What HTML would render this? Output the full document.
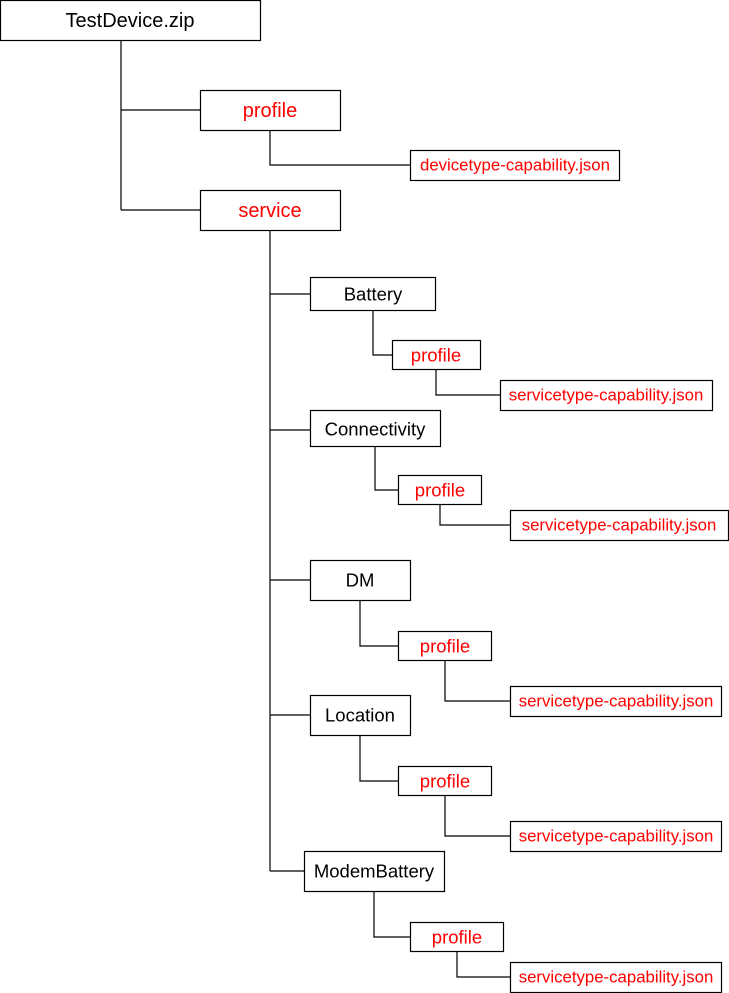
<!DOCTYPE html>
<html><head><style>body{margin:0;background:#fff}svg{display:block}text{font-family:"Liberation Sans",Arial,sans-serif;text-anchor:middle;dominant-baseline:central}</style></head>
<body>
<svg width="729" height="993" xmlns="http://www.w3.org/2000/svg">
<g fill="none" stroke="#000" stroke-width="1.2">
<path d="M121 40V210M121 110H200M121 210H200"/>
<path d="M270 130V165H410"/>
<path d="M270 230V871M270 294H310M270 430H310M270 580H310M270 715H310M270 871H304"/>
<path d="M373 310V355H392M436 369V395H500"/>
<path d="M375 447V490H398M440 504V525H510"/>
<path d="M360 600V646H398M445 660V701H510"/>
<path d="M360 735V781H398M445 795V836H510"/>
<path d="M374 891V937H410M457 951V977H510"/>
<rect x="0.5" y="0.5" width="260" height="40"/>
<rect x="200.5" y="90.5" width="140" height="40"/>
<rect x="200.5" y="190.5" width="140" height="40"/>
<rect x="410.5" y="150.5" width="209" height="30"/>
<rect x="310.5" y="277.5" width="125" height="33"/>
<rect x="392.5" y="340.5" width="88" height="29"/>
<rect x="500.5" y="380.5" width="212" height="30"/>
<rect x="310.5" y="410.5" width="130" height="36"/>
<rect x="398.5" y="475.5" width="83" height="29"/>
<rect x="510.5" y="510.5" width="218" height="30"/>
<rect x="310.5" y="560.5" width="100" height="40"/>
<rect x="398.5" y="631.5" width="93" height="29"/>
<rect x="510.5" y="686.5" width="211" height="30"/>
<rect x="310.5" y="695.5" width="100" height="40"/>
<rect x="398.5" y="766.5" width="93" height="29"/>
<rect x="510.5" y="821.5" width="211" height="30"/>
<rect x="304.5" y="851.5" width="140" height="40"/>
<rect x="410.5" y="922.5" width="93" height="29"/>
<rect x="510.5" y="962.5" width="211" height="30"/>
</g>
<g font-size="20" fill="#000">
<text x="130" y="21">TestDevice.zip</text>
</g>
<g font-size="18.5" fill="#000">
<text x="373" y="294">Battery</text>
<text x="375" y="429">Connectivity</text>
<text x="360" y="580">DM</text>
<text x="360" y="715">Location</text>
<text x="374" y="871">ModemBattery</text>
</g>
<g font-size="20" fill="#f00">
<text x="270" y="111">profile</text>
<text x="270" y="211">service</text>
</g>
<g font-size="18.5" fill="#f00">
<text x="436" y="355">profile</text>
<text x="440" y="490">profile</text>
<text x="445" y="646">profile</text>
<text x="445" y="781">profile</text>
<text x="457" y="937">profile</text>
</g>
<g font-size="16.8" fill="#f00">
<text x="515" y="165">devicetype-capability.json</text>
<text x="606" y="395">servicetype-capability.json</text>
<text x="619" y="525">servicetype-capability.json</text>
<text x="616" y="701">servicetype-capability.json</text>
<text x="616" y="836">servicetype-capability.json</text>
<text x="616" y="977">servicetype-capability.json</text>
</g>
</svg>
</body></html>
